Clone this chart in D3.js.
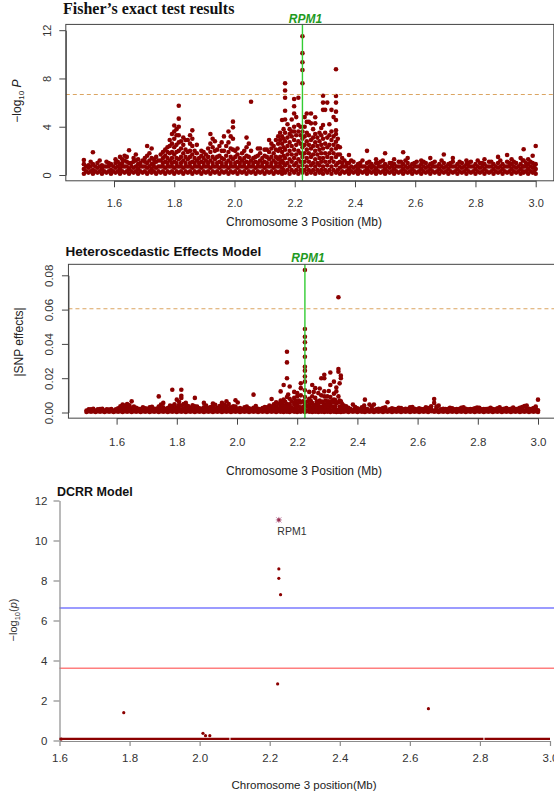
<!DOCTYPE html>
<html>
<head>
<meta charset="utf-8">
<script src="https://d3js.org/d3.v7.min.js"></script>
<style>
  body { margin: 0; background: #fff; }
  svg { display: block; }
  text { font-family: "Liberation Sans", Arial, sans-serif; }
</style>
</head>
<body>
<script>
// ---- data ----
const posTicks = [1.6, 1.8, 2.0, 2.2, 2.4, 2.6, 2.8, 3.0];
const rpm1Pos = 2.2256;

// Fisher's exact test: each row = [position (Mb), -log10 P of SNPs around it...]
const fisherColumns = [
  [1.500, 0.1, 0.5, 0.9, 1.24], [1.515, 0.2, 0.6, 0.8], [1.530, 0.1, 0.4, 0.9, 1.88], [1.545, 0.2, 0.6, 1.0],
  [1.560, 0.1, 0.5, 0.8], [1.575, 0.2, 0.7, 1.1], [1.590, 0.1, 0.4, 0.9], [1.605, 0.2, 0.6, 1.0, 1.3],
  [1.620, 0.1, 0.5, 0.9, 1.5], [1.635, 0.2, 0.7, 1.2, 1.6], [1.650, 0.1, 0.5, 1.0, 2.05], [1.665, 0.2, 0.6, 1.1, 1.4],
  [1.680, 0.1, 0.5, 0.9, 1.3], [1.695, 0.2, 0.7, 1.2], [1.710, 0.1, 0.6, 1.0, 1.6, 2.4], [1.725, 0.2, 0.5, 0.9, 1.4, 2.2],
  [1.740, 0.1, 0.6, 1.1, 1.5], [1.755, 0.2, 0.7, 1.2, 1.7], [1.770, 0.1, 0.6, 1.1, 1.6, 2.1], [1.785, 0.2, 0.7, 1.2, 1.8, 2.4, 2.9],
  [1.800, 0.1, 0.6, 1.1, 1.7, 2.3, 3.0, 3.6, 4.1], [1.815, 0.2, 0.7, 1.3, 2.0, 2.7, 3.3, 4.0, 4.67, 5.74],
  [1.830, 0.1, 0.6, 1.2, 1.8, 2.5, 3.1], [1.845, 0.2, 0.7, 1.3, 1.9, 2.9], [1.860, 0.1, 0.6, 1.1, 1.7, 2.4, 3.0, 3.7],
  [1.875, 0.2, 0.7, 1.2, 1.8, 2.5], [1.890, 0.1, 0.6, 1.1, 1.6, 2.0], [1.905, 0.2, 0.7, 1.2, 1.7],
  [1.920, 0.1, 0.6, 1.2, 1.9, 2.6, 3.4], [1.935, 0.2, 0.7, 1.3, 2.0, 2.8], [1.950, 0.1, 0.6, 1.1, 1.6, 2.4],
  [1.965, 0.2, 0.7, 1.3, 2.0, 3.2], [1.980, 0.1, 0.6, 1.2, 1.9, 2.7, 3.6], [1.995, 0.2, 0.7, 1.3, 2.1, 3.0, 3.95, 4.42],
  [2.010, 0.1, 0.6, 1.1, 1.7, 2.2], [2.025, 0.2, 0.7, 1.2, 1.8], [2.040, 0.1, 0.6, 1.1, 1.6, 2.3, 3.1],
  [2.055, 0.2, 0.7, 1.2, 2.0, 6.07], [2.070, 0.1, 0.6, 1.1, 1.5], [2.085, 0.2, 0.7, 1.2, 1.8, 2.2],
  [2.100, 0.1, 0.6, 1.1, 1.6, 2.1], [2.115, 0.2, 0.7, 1.3, 1.9, 2.9], [2.130, 0.1, 0.6, 1.2, 1.8, 2.4],
  [2.145, 0.2, 0.7, 1.3, 2.0, 2.6, 3.2], [2.158, 0.1, 0.6, 1.2, 1.9, 2.6, 3.2, 4.56],
  [2.168, 0.2, 0.8, 1.4, 2.1, 2.8, 3.5, 4.6, 5.33, 6.4, 7.0, 7.6], [2.183, 0.1, 0.7, 1.3, 2.0, 2.7, 3.4, 3.8],
  [2.198, 0.2, 0.8, 1.4, 2.1, 2.9, 3.6, 4.0, 5.1, 5.7, 6.3], [2.212, 0.1, 0.7, 1.3, 2.0, 2.8, 3.6, 4.14, 6.4],
  [2.2256, 0.2, 0.8, 1.5, 2.3, 3.0, 3.6, 7.6, 8.7, 9.34, 10.1, 11.5], [2.240, 0.1, 0.7, 1.4, 2.1, 2.8, 3.5, 4.4, 5.1],
  [2.254, 0.2, 0.8, 1.5, 2.2, 2.9, 4.28, 5.1], [2.268, 0.1, 0.7, 1.3, 2.0, 2.7, 3.4, 4.28, 4.78],
  [2.282, 0.2, 0.8, 1.4, 2.1, 2.8, 3.5], [2.294, 0.1, 0.7, 1.4, 2.2, 3.0, 4.14, 5.4, 6.0, 6.57],
  [2.308, 0.2, 0.8, 1.5, 2.3, 3.1, 6.0], [2.322, 0.1, 0.7, 1.4, 2.1, 2.9, 3.6, 5.4],
  [2.337, 0.2, 0.8, 1.5, 2.2, 2.76, 3.4, 3.7, 4.56, 5.25, 6.0, 6.55, 8.76], [2.350, 0.1, 0.6, 1.1, 1.7, 2.3],
  [2.365, 0.2, 0.7, 1.2], [2.380, 0.1, 0.5, 1.0, 1.66], [2.395, 0.2, 0.6, 1.1], [2.410, 0.1, 0.5, 0.9],
  [2.425, 0.2, 0.7, 1.2], [2.440, 0.1, 0.5, 1.0, 2.0], [2.455, 0.2, 0.6, 0.9], [2.470, 0.1, 0.5, 1.0, 1.3],
  [2.485, 0.2, 0.7, 1.1], [2.500, 0.1, 0.5, 0.9, 1.8], [2.515, 0.2, 0.6, 1.0], [2.530, 0.1, 0.5, 0.9, 1.3],
  [2.545, 0.2, 0.7, 1.1], [2.560, 0.1, 0.5, 0.9, 1.88], [2.575, 0.2, 0.6, 1.0, 1.4], [2.590, 0.1, 0.5, 0.9],
  [2.605, 0.2, 0.7, 1.1], [2.620, 0.1, 0.5, 0.9, 1.2], [2.635, 0.2, 0.6, 1.0], [2.650, 0.1, 0.5, 0.9, 1.4],
  [2.665, 0.2, 0.7, 1.1], [2.680, 0.1, 0.5, 0.9], [2.695, 0.2, 0.6, 1.0, 1.7], [2.710, 0.1, 0.5, 0.9],
  [2.725, 0.2, 0.7, 1.1, 1.4], [2.740, 0.1, 0.5, 0.9], [2.755, 0.2, 0.6, 1.0], [2.770, 0.1, 0.5, 0.9, 1.2],
  [2.785, 0.2, 0.7, 1.1], [2.800, 0.1, 0.5, 0.9], [2.815, 0.2, 0.6, 1.0], [2.830, 0.1, 0.5, 0.9, 1.3],
  [2.845, 0.2, 0.7, 1.1], [2.860, 0.1, 0.5, 0.9], [2.875, 0.2, 0.6, 1.0, 1.5], [2.890, 0.1, 0.5, 0.9],
  [2.905, 0.2, 0.7, 1.1, 1.66], [2.920, 0.1, 0.5, 0.9, 1.3], [2.935, 0.2, 0.6, 1.0], [2.950, 0.1, 0.5, 0.9, 1.4],
  [2.960, 0.2, 0.7, 1.2, 2.13], [2.975, 0.1, 0.5, 0.9, 1.3], [2.990, 0.2, 0.6, 1.0, 1.6], [3.000, 0.1, 0.5, 0.9, 2.4]
];
// SNPs lying between the rows above
const fisherFill = [
  [1.5075, 0.3, 0.7], [1.5225, 0.3, 0.7, 1.1], [1.5375, 0.3, 0.7], [1.5525, 0.3, 0.7, 1.2], [1.5675, 0.3, 0.7],
  [1.5825, 0.3, 0.7, 1.0], [1.5975, 0.3, 0.7], [1.6125, 0.3, 0.7, 1.1], [1.6275, 0.3, 0.7, 1.0, 1.3],
  [1.6425, 0.3, 0.7, 1.1, 1.5], [1.6575, 0.3, 0.7, 1.0], [1.6725, 0.3, 0.7, 1.2, 1.7], [1.6875, 0.3, 0.7, 1.0],
  [1.7025, 0.3, 0.7, 1.1, 1.4], [1.7175, 0.3, 0.7, 1.2, 1.8], [1.7325, 0.3, 0.7, 1.0, 1.3], [1.7475, 0.3, 0.7, 1.2],
  [1.7625, 0.3, 0.7, 1.0, 1.4, 1.9], [1.7775, 0.3, 0.7, 1.0, 1.4, 1.9, 2.3], [1.7925, 0.3, 0.7, 1.0, 1.4, 1.9, 2.6, 3.4],
  [1.8075, 0.3, 0.7, 1.0, 1.4, 1.9, 2.5, 3.3, 3.8], [1.8225, 0.3, 0.7, 1.0, 1.5, 2.2, 2.8], [1.8375, 0.3, 0.7, 1.0, 1.5, 2.1, 2.9],
  [1.8525, 0.3, 0.7, 1.0, 1.5, 2.0, 2.6, 3.3], [1.8675, 0.3, 0.7, 1.0, 1.4, 2.0], [1.8825, 0.3, 0.7, 1.0, 1.4],
  [1.8975, 0.3, 0.7, 1.0, 1.4, 1.9], [1.9125, 0.3, 0.7, 1.0, 1.5, 2.2], [1.9275, 0.3, 0.7, 1.0, 1.5, 2.3, 3.0],
  [1.9425, 0.3, 0.7, 1.0, 1.5, 2.1], [1.9575, 0.3, 0.7, 1.0, 1.4, 2.0, 2.7], [1.9725, 0.3, 0.7, 1.0, 1.6, 2.4],
  [1.9875, 0.3, 0.7, 1.0, 1.5, 2.2, 3.2], [2.0025, 0.3, 0.7, 1.0, 1.5, 2.0], [2.0175, 0.3, 0.7, 1.0, 1.4],
  [2.0325, 0.3, 0.7, 1.0, 1.4, 2.0], [2.0475, 0.3, 0.7, 1.0, 1.5, 2.6], [2.0625, 0.3, 0.7, 1.0, 1.4],
  [2.0775, 0.3, 0.7, 1.0, 1.6, 2.2], [2.0925, 0.3, 0.7, 1.0, 1.4], [2.1075, 0.3, 0.7, 1.0, 1.5, 2.1],
  [2.1225, 0.3, 0.7, 1.0, 1.5, 2.2, 2.6], [2.1375, 0.3, 0.7, 1.0, 1.5, 2.1, 2.9], [2.1515, 0.3, 0.7, 1.0, 1.5, 2.2, 2.9, 3.5],
  [2.163, 0.4, 1.0, 1.6, 2.3, 3.0, 3.8], [2.176, 0.4, 1.0, 1.7, 2.4, 3.1, 4.2], [2.190, 0.4, 1.1, 1.7, 2.4, 3.2, 3.6, 4.6],
  [2.205, 0.4, 1.0, 1.7, 2.5, 3.3, 4.8], [2.219, 0.4, 1.1, 1.8, 2.6, 3.3, 4.0], [2.233, 0.4, 1.1, 1.8, 2.5, 3.2, 4.0, 4.8],
  [2.247, 0.4, 1.1, 1.8, 2.5, 3.3, 4.4], [2.261, 0.4, 1.0, 1.7, 2.4, 3.1, 3.8], [2.275, 0.4, 1.0, 1.7, 2.4, 3.1],
  [2.288, 0.4, 1.1, 1.8, 2.5, 3.3, 3.9], [2.301, 0.4, 1.1, 1.8, 2.6, 3.5, 5.4], [2.315, 0.4, 1.1, 1.8, 2.5, 3.3, 4.2],
  [2.329, 0.4, 1.1, 1.8, 2.5, 3.2, 4.8], [2.343, 0.4, 1.0, 1.7, 2.4, 3.0], [2.3575, 0.3, 0.7, 1.0, 1.4],
  [2.3725, 0.3, 0.7, 1.0], [2.3875, 0.3, 0.7, 1.2], [2.4025, 0.3, 0.7], [2.4175, 0.3, 0.7, 1.0], [2.4325, 0.3, 0.7],
  [2.4475, 0.3, 0.7, 1.1], [2.4625, 0.3, 0.7], [2.4775, 0.3, 0.7, 1.0], [2.4925, 0.3, 0.7, 1.2], [2.5075, 0.3, 0.7],
  [2.5225, 0.3, 0.7, 1.0], [2.5375, 0.3, 0.7], [2.5525, 0.3, 0.7, 1.1], [2.5675, 0.3, 0.7, 1.2], [2.5825, 0.3, 0.7],
  [2.5975, 0.3, 0.7, 1.0], [2.6125, 0.3, 0.7], [2.6275, 0.3, 0.7, 1.1], [2.6425, 0.3, 0.7], [2.6575, 0.3, 0.7, 1.0],
  [2.6725, 0.3, 0.7], [2.6875, 0.3, 0.7, 1.2], [2.7025, 0.3, 0.7], [2.7175, 0.3, 0.7, 1.0], [2.7325, 0.3, 0.7],
  [2.7475, 0.3, 0.7, 1.1], [2.7625, 0.3, 0.7], [2.7775, 0.3, 0.7, 1.0], [2.7925, 0.3, 0.7], [2.8075, 0.3, 0.7, 1.2],
  [2.8225, 0.3, 0.7, 1.0], [2.8375, 0.3, 0.7], [2.8525, 0.3, 0.7, 1.1], [2.8675, 0.3, 0.7], [2.8825, 0.3, 0.7, 1.2],
  [2.8975, 0.3, 0.7], [2.9125, 0.3, 0.7, 1.0], [2.9275, 0.3, 0.7, 1.1], [2.9425, 0.3, 0.7], [2.9575, 0.3, 0.7, 1.2],
  [2.9675, 0.3, 0.7, 1.0], [2.9825, 0.3, 0.7, 1.1], [2.9950, 0.3, 0.7]
];
const fisherTicksY = [0, 4, 8, 12];
const fisherThreshold = 6.67;

// Heteroscedastic effects model: each row = [position (Mb), |SNP effect| values...]
const hemColumns = [
  [1.500, .0003, .0012], [1.515, .0004, .0011, .0018], [1.530, .0003, .0012], [1.545, .0004, .0010, .0020],
  [1.560, .0003, .0012], [1.575, .0004, .0011, .0017], [1.590, .0003, .0012], [1.605, .0004, .0013, .0024],
  [1.620, .0003, .0012, .0030, .0046], [1.635, .0004, .0014, .0032, .0050], [1.650, .0003, .0012, .0025, .0065],
  [1.665, .0004, .0013, .0028], [1.680, .0003, .0011, .0020], [1.695, .0004, .0012, .0024], [1.710, .0003, .0013, .0030],
  [1.725, .0004, .0012, .0022], [1.740, .0003, .0014, .0035, .0094], [1.755, .0004, .0012, .0030, .0056],
  [1.770, .0003, .0013, .0026], [1.785, .0004, .0014, .0038, .0133], [1.800, .0003, .0012, .0030, .0075],
  [1.815, .0004, .0015, .0040, .0085, .0098, .0133], [1.830, .0003, .0013, .0032, .0056], [1.845, .0004, .0012, .0028],
  [1.860, .0003, .0014, .0036, .0085], [1.875, .0004, .0012, .0024], [1.890, .0003, .0013, .0030, .0056],
  [1.905, .0004, .0012, .0026], [1.920, .0003, .0014, .0034, .0052], [1.935, .0004, .0012, .0028],
  [1.950, .0003, .0013, .0032, .0056], [1.965, .0004, .0014, .0036, .0065], [1.980, .0003, .0012, .0030],
  [1.995, .0004, .0013, .0034, .0071], [2.010, .0003, .0012, .0026], [2.025, .0004, .0013, .0030],
  [2.040, .0003, .0012, .0024], [2.055, .0004, .0013, .0028, .0104], [2.070, .0003, .0012, .0022],
  [2.085, .0004, .0013, .0026], [2.100, .0003, .0012, .0030], [2.115, .0004, .0014, .0034, .0079],
  [2.130, .0003, .0013, .0036, .0060], [2.145, .0004, .0015, .0042, .0069, .0123], [2.155, .0003, .0014, .0040, .0075, .0160],
  [2.166, .0004, .0016, .0050, .0090, .0200, .0292, .0354], [2.175, .0003, .0015, .0048, .0080, .0152],
  [2.190, .0004, .0016, .0050, .0085, .0120], [2.200, .0003, .0015, .0052, .0094, .0113],
  [2.212, .0004, .0016, .0058, .0100, .0142, .0170],
  [2.2256, .0003, .0015, .0050, .0090, .0130, .0180, .0210, .0244, .0267, .0325, .0370, .0410, .0442, .0487, .0831],
  [2.240, .0004, .0016, .0048, .0080, .0120], [2.250, .0003, .0015, .0055, .0095, .0160], [2.260, .0004, .0016, .0045, .0085, .0142],
  [2.270, .0003, .0015, .0050, .0113], [2.280, .0004, .0016, .0060, .0100, .0200],
  [2.290, .0003, .0015, .0048, .0094, .0123, .0200, .0220], [2.300, .0004, .0016, .0055, .0094],
  [2.310, .0003, .0015, .0050, .0090, .0160, .0233], [2.322, .0004, .0016, .0058, .0075, .0110, .0180],
  [2.330, .0003, .0015, .0052, .0123, .0146], [2.337, .0004, .0016, .0060, .0094, .0238, .0254, .0672],
  [2.345, .0003, .0015, .0065, .0200, .0215], [2.355, .0004, .0013, .0040], [2.370, .0003, .0012, .0028],
  [2.385, .0004, .0013, .0046], [2.400, .0003, .0012, .0024], [2.415, .0004, .0011, .0030], [2.425, .0003, .0013, .0075],
  [2.440, .0004, .0012, .0046], [2.455, .0003, .0013, .0046], [2.470, .0004, .0012, .0022], [2.485, .0003, .0011, .0026],
  [2.500, .0004, .0012, .0060], [2.515, .0003, .0013, .0024], [2.530, .0004, .0012, .0020], [2.545, .0003, .0011, .0026],
  [2.560, .0004, .0012, .0022], [2.575, .0003, .0013, .0030], [2.590, .0004, .0012, .0021], [2.605, .0003, .0011, .0024],
  [2.620, .0004, .0012, .0020], [2.635, .0003, .0013, .0026], [2.655, .0004, .0012, .0056, .0079], [2.670, .0003, .0011, .0040],
  [2.685, .0004, .0012, .0022], [2.700, .0003, .0013, .0020], [2.715, .0004, .0012, .0024], [2.730, .0003, .0011, .0020],
  [2.745, .0004, .0012, .0027], [2.760, .0003, .0013, .0022], [2.775, .0004, .0012, .0020], [2.790, .0003, .0011, .0024],
  [2.805, .0004, .0012, .0027], [2.820, .0003, .0013, .0020], [2.835, .0004, .0012, .0022], [2.850, .0003, .0011, .0020],
  [2.865, .0004, .0012, .0024], [2.880, .0003, .0013, .0020], [2.895, .0004, .0012, .0026], [2.910, .0003, .0011, .0022],
  [2.925, .0004, .0012, .0020], [2.940, .0003, .0013, .0028], [2.955, .0004, .0012, .0037], [2.970, .0003, .0011, .0022],
  [2.985, .0004, .0012, .0026], [3.000, .0003, .0013, .0075]
];
// SNPs lying between the rows above
const hemFill = [
  [1.5075, .0008, .0019], [1.5225, .0008, .0021], [1.5375, .0008, .0018], [1.5525, .0008, .0022], [1.5675, .0008, .0019],
  [1.5825, .0008, .0020], [1.5975, .0008, .0018], [1.6125, .0008, .0022, .0036], [1.6275, .0008, .0021, .0040],
  [1.6425, .0008, .0023, .0042], [1.6575, .0008, .0020, .0034], [1.6725, .0008, .0021], [1.6875, .0008, .0019, .0030],
  [1.7025, .0008, .0022], [1.7175, .0008, .0020, .0033], [1.7325, .0008, .0021], [1.7475, .0008, .0023, .0046],
  [1.7625, .0008, .0020], [1.7775, .0008, .0022, .0040], [1.7925, .0008, .0024, .0048], [1.8075, .0008, .0022, .0044, .0062],
  [1.8225, .0008, .0024, .0050], [1.8375, .0008, .0021, .0038], [1.8525, .0008, .0022, .0042], [1.8675, .0008, .0020, .0034],
  [1.8825, .0008, .0021], [1.8975, .0008, .0022, .0040], [1.9125, .0008, .0020, .0032], [1.9275, .0008, .0022, .0045],
  [1.9425, .0008, .0021, .0038], [1.9575, .0008, .0022, .0046], [1.9725, .0008, .0023, .0050], [1.9875, .0008, .0021, .0036],
  [2.0025, .0008, .0022, .0058], [2.0175, .0008, .0020], [2.0325, .0008, .0021, .0034], [2.0475, .0008, .0020],
  [2.0625, .0008, .0022, .0038], [2.0775, .0008, .0019], [2.0925, .0008, .0021, .0032], [2.1075, .0008, .0022, .0040],
  [2.1225, .0008, .0024, .0048], [2.1375, .0008, .0025, .0052], [2.150, .0009, .0028, .0058],
  [2.160, .0009, .0030, .0062], [2.170, .0009, .0032, .0105], [2.182, .0009, .0030, .0065],
  [2.195, .0009, .0032, .0068], [2.206, .0009, .0034, .0070], [2.219, .0009, .0032, .0066],
  [2.233, .0009, .0034, .0064], [2.245, .0009, .0032, .0068], [2.255, .0009, .0034, .0120],
  [2.265, .0009, .0032, .0066], [2.275, .0009, .0033, .0070, .0140], [2.285, .0009, .0034, .0064],
  [2.295, .0009, .0033, .0070], [2.305, .0009, .0034, .0066, .0125], [2.316, .0009, .0034, .0068],
  [2.326, .0009, .0035, .0072], [2.341, .0009, .0034, .0070, .0170], [2.3495, .0008, .0026, .0050],
  [2.3625, .0008, .0022, .0036], [2.3775, .0008, .0020], [2.3925, .0008, .0021, .0032], [2.4075, .0008, .0019],
  [2.4225, .0008, .0022, .0040], [2.4325, .0008, .0020], [2.4475, .0008, .0021, .0034], [2.4625, .0008, .0019],
  [2.4775, .0008, .0020], [2.4925, .0008, .0021, .0030], [2.5075, .0008, .0019], [2.5225, .0008, .0020],
  [2.5375, .0008, .0021, .0028], [2.5525, .0008, .0019], [2.5675, .0008, .0020], [2.5825, .0008, .0021, .0032],
  [2.5975, .0008, .0019], [2.6125, .0008, .0020], [2.6275, .0008, .0021, .0030], [2.645, .0008, .0020, .0036],
  [2.6625, .0008, .0021, .0034], [2.6775, .0008, .0019], [2.6925, .0008, .0020], [2.7075, .0008, .0021, .0028],
  [2.7225, .0008, .0019], [2.7375, .0008, .0020], [2.7525, .0008, .0021, .0030], [2.7675, .0008, .0019],
  [2.7825, .0008, .0020], [2.7975, .0008, .0021, .0029], [2.8125, .0008, .0019], [2.8275, .0008, .0020],
  [2.8425, .0008, .0021, .0028], [2.8575, .0008, .0019], [2.8725, .0008, .0020, .0030], [2.8875, .0008, .0021],
  [2.9025, .0008, .0019], [2.9175, .0008, .0020, .0029], [2.9325, .0008, .0021], [2.9475, .0008, .0019, .0032],
  [2.9625, .0008, .0022, .0040], [2.9775, .0008, .0020], [2.9925, .0008, .0021, .0034]
];
const hemTicksY = [0, 0.02, 0.04, 0.06, 0.08];
const hemThreshold = 0.0605;

// DCRR model
const dcrrPos = [1.605, 1.7834, 2.0095, 2.0168, 2.029, 2.2226, 2.226, 2.226, 2.231, 2.653];
const dcrrLogP = [0.07, 1.39, 0.36, 0.24, 0.24, 2.83, 8.58, 8.11, 7.29, 1.59];
const dcrrPeak = [2.226, 11.03];
const dcrrZeroRuns = [[1.6, 2.085], [2.088, 2.81], [2.813, 3.0]];
const dcrrTicksY = [0, 2, 4, 6, 8, 10, 12];
const dcrrBlue = 6.63;
const dcrrRed = 3.61;

// ---- drawing ----
const W = 554, H = 796;
const DOT = "#8b0000";
const svg = d3.select("body").append("svg").attr("width", W).attr("height", H);

function flatten(columns) {
  const pts = [];
  columns.forEach(c => c.slice(1).forEach(v => pts.push({ pos: c[0], val: v })));
  return pts;
}

// R base-graphics style panel (box, dotted threshold, RPM1 marker)
function rPanel(o) {
  const x = d3.scaleLinear().domain([1.6, 3.0]).range(o.xRange);
  const y = d3.scaleLinear().domain(o.yDomain).range(o.yRange);
  const g = svg.append("g");
  const x0 = x(1.44), x1 = x(3.06), yb = y(o.yBox[0]), yt = y(o.yBox[1]);

  g.append("g").selectAll("circle").data(flatten(o.columns)).join("circle")
    .attr("cx", d => x(d.pos)).attr("cy", d => y(d.val))
    .attr("r", 2.3).attr("fill", DOT);

  g.append("line")
    .attr("x1", x0).attr("x2", x1).attr("y1", y(o.threshold)).attr("y2", y(o.threshold))
    .attr("stroke", "#dba562").attr("stroke-width", 1.2).attr("stroke-dasharray", "4,3");

  g.append("line")
    .attr("x1", x(rpm1Pos)).attr("x2", x(rpm1Pos)).attr("y1", yt).attr("y2", yb)
    .attr("stroke", "#33cc33").attr("stroke-width", 1.4);

  g.append("text").attr("x", x(rpm1Pos) + 3).attr("y", o.rpmY)
    .attr("text-anchor", "middle").attr("font-size", 12).attr("font-weight", "bold")
    .attr("font-style", "italic").attr("fill", "#1f9a1f").text("RPM1");

  g.append("rect").attr("x", x0).attr("y", yt).attr("width", x1 - x0).attr("height", yb - yt)
    .attr("fill", "none").attr("stroke", "#444").attr("stroke-width", 1);

  const xa = g.append("g").attr("transform", `translate(0,${yb})`)
    .call(d3.axisBottom(x).tickValues(posTicks).tickFormat(d3.format(".1f"))
      .tickSize(6.5).tickSizeOuter(0).tickPadding(o.xPad));
  xa.attr("font-size", o.tickFont).attr("font-family", null);
  xa.selectAll("line, path").attr("stroke", "#444");
  xa.selectAll("text").attr("fill", "#333");

  const ya = g.append("g").attr("transform", `translate(${x0},0)`)
    .call(d3.axisLeft(y).tickValues(o.yTicks).tickFormat(o.yFormat).tickSize(6.5).tickSizeOuter(0));
  ya.attr("font-size", o.tickFont).attr("font-family", null);
  ya.selectAll("line, path").attr("stroke", "#444");
  ya.selectAll("text").attr("fill", "#333")
    .attr("transform", "rotate(-90)").attr("x", 0).attr("y", o.yLabOff).attr("dy", null)
    .attr("text-anchor", "middle");

  svg.append("text").attr("x", 304).attr("y", o.xTitleY).attr("text-anchor", "middle")
    .attr("font-size", 12).attr("fill", "#222").text("Chromosome 3 Position (Mb)");
  return g;
}

// panel 1: Fisher's exact test
rPanel({
  columns: fisherColumns.concat(fisherFill), xRange: [114, 535.7], yDomain: [0, 12], yRange: [175, 30.2],
  yBox: [-0.48, 12.48], yTicks: fisherTicksY, yFormat: d3.format("d"), threshold: fisherThreshold,
  rpmY: 22.5, xPad: 12, tickFont: 11, yLabOff: -15, xTitleY: 226
});
svg.append("text").attr("x", 63).attr("y", 14).attr("font-size", 16).attr("font-weight", "bold")
  .style("font-family", '"Liberation Serif", "Times New Roman", serif').attr("fill", "#111")
  .text("Fisher\u2019s exact test results");
const yl1 = svg.append("text").attr("transform", "translate(21,101) rotate(-90)")
  .attr("text-anchor", "middle").attr("font-size", 12).attr("fill", "#222");
yl1.append("tspan").text("\u2212log");
yl1.append("tspan").attr("font-size", 8).attr("dy", 3).text("10");
yl1.append("tspan").attr("dy", -3).text(" ");
yl1.append("tspan").attr("font-style", "italic").text("P");

// panel 2: heteroscedastic effects model
rPanel({
  columns: hemColumns.concat(hemFill), xRange: [116.6, 538], yDomain: [0, 0.08], yRange: [412.5, 275.3],
  yBox: [-0.0033, 0.0864], yTicks: hemTicksY, yFormat: d3.format(".2f"), threshold: hemThreshold,
  rpmY: 261.5, xPad: 13, tickFont: 11.5, yLabOff: -15, xTitleY: 475
});
svg.append("text").attr("x", 65.5).attr("y", 256).attr("font-size", 13.5).attr("font-weight", "bold")
  .attr("fill", "#111").text("Heteroscedastic Effects Model");
svg.append("text").attr("transform", "translate(22.5,342) rotate(-90)")
  .attr("text-anchor", "middle").attr("font-size", 12).attr("fill", "#222").text("|SNP effects|");

// panel 3: DCRR model
const xd = d3.scaleLinear().domain([1.6, 3.0]).range([59.5, 550]);
const yd = d3.scaleLinear().domain([0, 12]).range([740.5, 500.5]);
const g3 = svg.append("g");

g3.append("line").attr("x1", xd(1.6)).attr("x2", W).attr("y1", yd(dcrrBlue)).attr("y2", yd(dcrrBlue))
  .attr("stroke", "#7a7aff").attr("stroke-width", 1.5);
g3.append("line").attr("x1", xd(1.6)).attr("x2", W).attr("y1", yd(dcrrRed)).attr("y2", yd(dcrrRed))
  .attr("stroke", "#ff7f7f").attr("stroke-width", 1.5);

const xa3 = g3.append("g").attr("transform", "translate(0,741)")
  .call(d3.axisBottom(xd).tickValues(posTicks).tickFormat(d3.format(".1f")).tickSize(5).tickSizeOuter(0).tickPadding(8));
const ya3 = g3.append("g").attr("transform", `translate(${xd(1.6)},0)`)
  .call(d3.axisLeft(yd).tickValues(dcrrTicksY).tickFormat(d3.format("d")).tickSize(6).tickSizeOuter(0).tickPadding(6));
[xa3, ya3].forEach(a => {
  a.attr("font-size", 11.5).attr("font-family", null);
  a.selectAll("line, path").attr("stroke", "#8c8c8c").attr("stroke-width", 1.2);
  a.selectAll("text").attr("fill", "#333");
});

g3.append("g").selectAll("line").data(dcrrZeroRuns).join("line")
  .attr("x1", d => xd(d[0])).attr("x2", d => xd(d[1]))
  .attr("y1", yd(0.08)).attr("y2", yd(0.08))
  .attr("stroke", DOT).attr("stroke-width", 2.4);

g3.append("g").selectAll("circle").data(dcrrPos.map((p, i) => [p, dcrrLogP[i]])).join("circle")
  .attr("cx", d => xd(d[0])).attr("cy", d => yd(d[1])).attr("r", 1.6).attr("fill", DOT);

const px = xd(dcrrPeak[0]), py = yd(dcrrPeak[1]);
g3.append("circle").attr("cx", px).attr("cy", py).attr("r", 1.6).attr("fill", DOT);
g3.append("path")
  .attr("d", `M${px - 2.6},${py - 2.6}L${px + 2.6},${py + 2.6}M${px - 2.6},${py + 2.6}L${px + 2.6},${py - 2.6}M${px},${py - 3}L${px},${py + 3}M${px - 3},${py}L${px + 3},${py}`)
  .attr("stroke", "#a0467a").attr("stroke-width", 0.8).attr("opacity", 0.8);
g3.append("text").attr("x", px - 1.5).attr("y", py + 15.5).attr("font-size", 10.5).attr("fill", "#333").text("RPM1");

svg.append("text").attr("x", 57).attr("y", 495.5).attr("font-size", 12.5).attr("font-weight", "bold")
  .attr("fill", "#111").text("DCRR Model");
svg.append("text").attr("x", 304).attr("y", 789).attr("text-anchor", "middle").attr("font-size", 11.5)
  .attr("fill", "#222").text("Chromosome 3 position(Mb)");
const yl3 = svg.append("text").attr("transform", "translate(17,620) rotate(-90)")
  .attr("text-anchor", "middle").attr("font-size", 11).attr("fill", "#333");
yl3.append("tspan").text("\u2212log");
yl3.append("tspan").attr("font-size", 7.5).attr("dy", 3).text("10");
yl3.append("tspan").attr("dy", -3).text("(");
yl3.append("tspan").attr("font-style", "italic").text("p");
yl3.append("tspan").text(")");
</script>
</body>
</html>
